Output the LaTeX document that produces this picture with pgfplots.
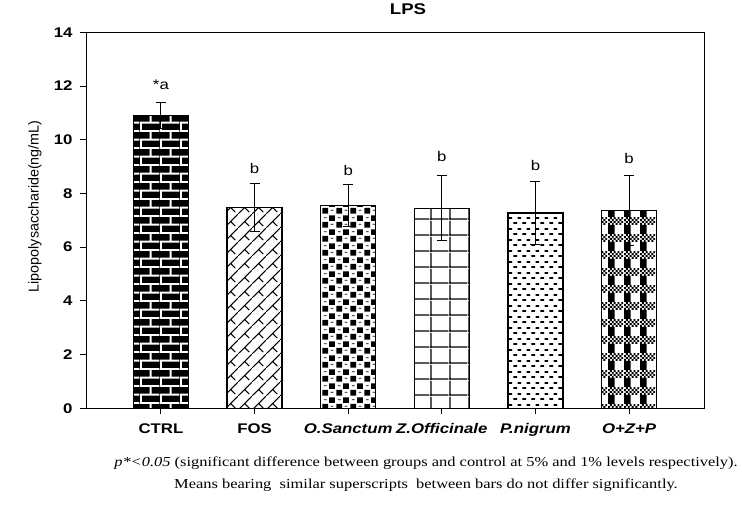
\documentclass[border=0pt]{standalone}
\usepackage{fontspec}
\setmainfont{Liberation Sans}
\newfontfamily\widesans[FakeStretch=1.2]{Liberation Sans}
\newfontfamily\wideserif[FakeStretch=1.2]{Liberation Serif}
\usepackage{pgfplots}
\pgfplotsset{compat=1.18}
\usetikzlibrary{patterns}

% bar fillings
\pgfdeclarepatternformonly{ctrlbricks}{\pgfpointorigin}{\pgfpoint{20pt}{17.4pt}}{\pgfpoint{20pt}{17.4pt}}{
  \pgfsetlinewidth{2pt}
  \pgfpathmoveto{\pgfpoint{0pt}{1pt}}\pgfpathlineto{\pgfpoint{20pt}{1pt}}
  \pgfpathmoveto{\pgfpoint{0pt}{9.7pt}}\pgfpathlineto{\pgfpoint{20pt}{9.7pt}}
  \pgfpathmoveto{\pgfpoint{1pt}{1pt}}\pgfpathlineto{\pgfpoint{1pt}{9.7pt}}
  \pgfpathmoveto{\pgfpoint{11pt}{9.7pt}}\pgfpathlineto{\pgfpoint{11pt}{17.4pt}}
  \pgfusepath{stroke}
}
\pgfdeclarepatternformonly{fosweave}{\pgfpointorigin}{\pgfpoint{14pt}{14pt}}{\pgfpoint{14pt}{14pt}}{
  \pgfsetlinewidth{1.1pt}
  \pgfpathmoveto{\pgfpoint{-1pt}{-1pt}}\pgfpathlineto{\pgfpoint{15pt}{15pt}}
  \pgfpathmoveto{\pgfpoint{7pt}{7pt}}\pgfpathlineto{\pgfpoint{12pt}{2pt}}
  \pgfusepath{stroke}
}
\pgfdeclarepatternformonly{osquares}{\pgfpointorigin}{\pgfpoint{14pt}{14pt}}{\pgfpoint{14pt}{14pt}}{
  \pgfpathrectangle{\pgfpoint{0.5pt}{0.5pt}}{\pgfpoint{6pt}{6pt}}
  \pgfpathrectangle{\pgfpoint{7.5pt}{7.5pt}}{\pgfpoint{6pt}{6pt}}
  \pgfusepath{fill}
  \pgfsetlinewidth{0.9pt}
  \pgfpathmoveto{\pgfpoint{9pt}{4pt}}\pgfpathlineto{\pgfpoint{12pt}{4pt}}
  \pgfpathmoveto{\pgfpoint{2pt}{11pt}}\pgfpathlineto{\pgfpoint{5pt}{11pt}}
  \pgfusepath{stroke}
}
\pgfdeclarepatternformonly{zgrid}{\pgfpointorigin}{\pgfpoint{18.7pt}{16pt}}{\pgfpoint{18.7pt}{16pt}}{
  \pgfsetlinewidth{1.2pt}
  \pgfpathmoveto{\pgfpoint{0pt}{1pt}}\pgfpathlineto{\pgfpoint{18.7pt}{1pt}}
  \pgfpathmoveto{\pgfpoint{1pt}{0pt}}\pgfpathlineto{\pgfpoint{1pt}{16pt}}
  \pgfusepath{stroke}
}
\pgfdeclarepatternformonly{pdashes}{\pgfpointorigin}{\pgfpoint{9pt}{10.6pt}}{\pgfpoint{9pt}{10.6pt}}{
  \pgfsetlinewidth{1.8pt}
  \pgfpathmoveto{\pgfpoint{0.5pt}{2pt}}\pgfpathlineto{\pgfpoint{4.5pt}{2pt}}
  \pgfpathmoveto{\pgfpoint{5pt}{7.3pt}}\pgfpathlineto{\pgfpoint{8.8pt}{7.3pt}}
  \pgfusepath{stroke}
}
\pgfdeclarepatternformonly{ozpplaid}{\pgfpointorigin}{\pgfpoint{16pt}{17.4pt}}{\pgfpoint{16pt}{17.4pt}}{
  \pgfpathrectangle{\pgfpoint{0pt}{0pt}}{\pgfpoint{7pt}{9.4pt}}
  \foreach \r in {0,1,2,3}{
    \foreach \c in {0,...,7}{
      \pgfmathparse{int(mod(\r+\c,2))}
      \ifnum\pgfmathresult=0
        \pgfpathrectangle{\pgfpoint{2*\c pt}{9.4pt+2*\r pt}}{\pgfpoint{2pt}{2pt}}
      \fi
    }
  }
  \pgfusepath{fill}
}

\pgfplotstableread{
x   y     lbl
0   11.88 *a
1   8.75  b
2   8.67  b
3   9.20  b
4   8.86  b
5   9.12  b
}\labeltable

\begin{document}
\begin{tikzpicture}
\begin{axis}[
  scale only axis,
  width=618pt, height=376pt,
  xmin=-0.8, xmax=5.8,
  ymin=0, ymax=14,
  ytick={0,2,...,14},
  xtick={0,1,2,3,4,5},
  xticklabels={CTRL,FOS,\itshape O.Sanctum,\itshape Z.Officinale,\itshape P.nigrum,\itshape O+Z+P},
  xtick pos=bottom, ytick pos=left,
  tick align=outside,
  major tick length=6pt,
  axis line style={line width=1pt},
  every tick/.style={black, line width=1pt},
  /pgf/number format/assume math mode=true,
  yticklabel style={font=\widesans\bfseries\fontsize{14}{14}\selectfont, xshift=-4pt},
  xticklabel style={font=\widesans\bfseries\fontsize{14}{14}\selectfont, yshift=-6pt},
  ylabel={Lipopolysaccharide(ng/mL)},
  ylabel style={at={(axis description cs:-0.0825,0.537)}, anchor=center, rotate=0,
    font=\fontsize{14.3}{14}\selectfont},
  title={LPS},
  title style={at={(axis description cs:0.521,1.0465)}, anchor=center,
    font=\widesans\bfseries\fontsize{15.5}{15}\selectfont},
  every axis plot/.append style={ybar, bar width=55pt, bar shift=0pt, draw=black, line width=1.2pt},
  bar err/.style={error bars/y dir=both, error bars/y explicit,
    error bars/error bar style={black, line width=1pt},
    error bars/error mark options={rotate=90, mark size=5pt, line width=1pt}},
]
\addplot[preaction={fill=black}, pattern=ctrlbricks, pattern color=white, bar err]
  coordinates {(0,10.90) +- (0,0.48)};
\addplot[pattern=fosweave, bar err] coordinates {(1,7.48) +- (0,0.90)};
\addplot[pattern=osquares, bar err] coordinates {(2,7.55) +- (0,0.78)};
\addplot[pattern=zgrid, bar err] coordinates {(3,7.45) +- (0,1.22)};
\addplot[pattern=pdashes, bar err] coordinates {(4,7.27) +- (0,1.18)};
\addplot[pattern=ozpplaid, bar err] coordinates {(5,7.37) +- (0,1.30)};
\addplot[sharp plot, draw=none, mark=none,
  nodes near coords, point meta=explicit symbolic,
  nodes near coords style={anchor=base, inner sep=0pt, font=\widesans\fontsize{14}{14}\selectfont}]
  table[x=x, y=y, meta=lbl] {\labeltable};
\end{axis}
\path ([xshift=-86pt, yshift=-99pt]current axis.south west)
  rectangle ([xshift=38pt, yshift=30pt]current axis.north east);
\node[anchor=north, align=center, font=\wideserif\fontsize{13.7}{22}\selectfont]
  at ([xshift=31pt, yshift=-45pt]current axis.south)
  {\textit{p*<0.05} (significant difference between groups and control at 5\% and 1\% levels respectively).\\
   Means bearing\ \ similar superscripts\ \ between bars do not differ significantly.};
\end{tikzpicture}
\end{document}
